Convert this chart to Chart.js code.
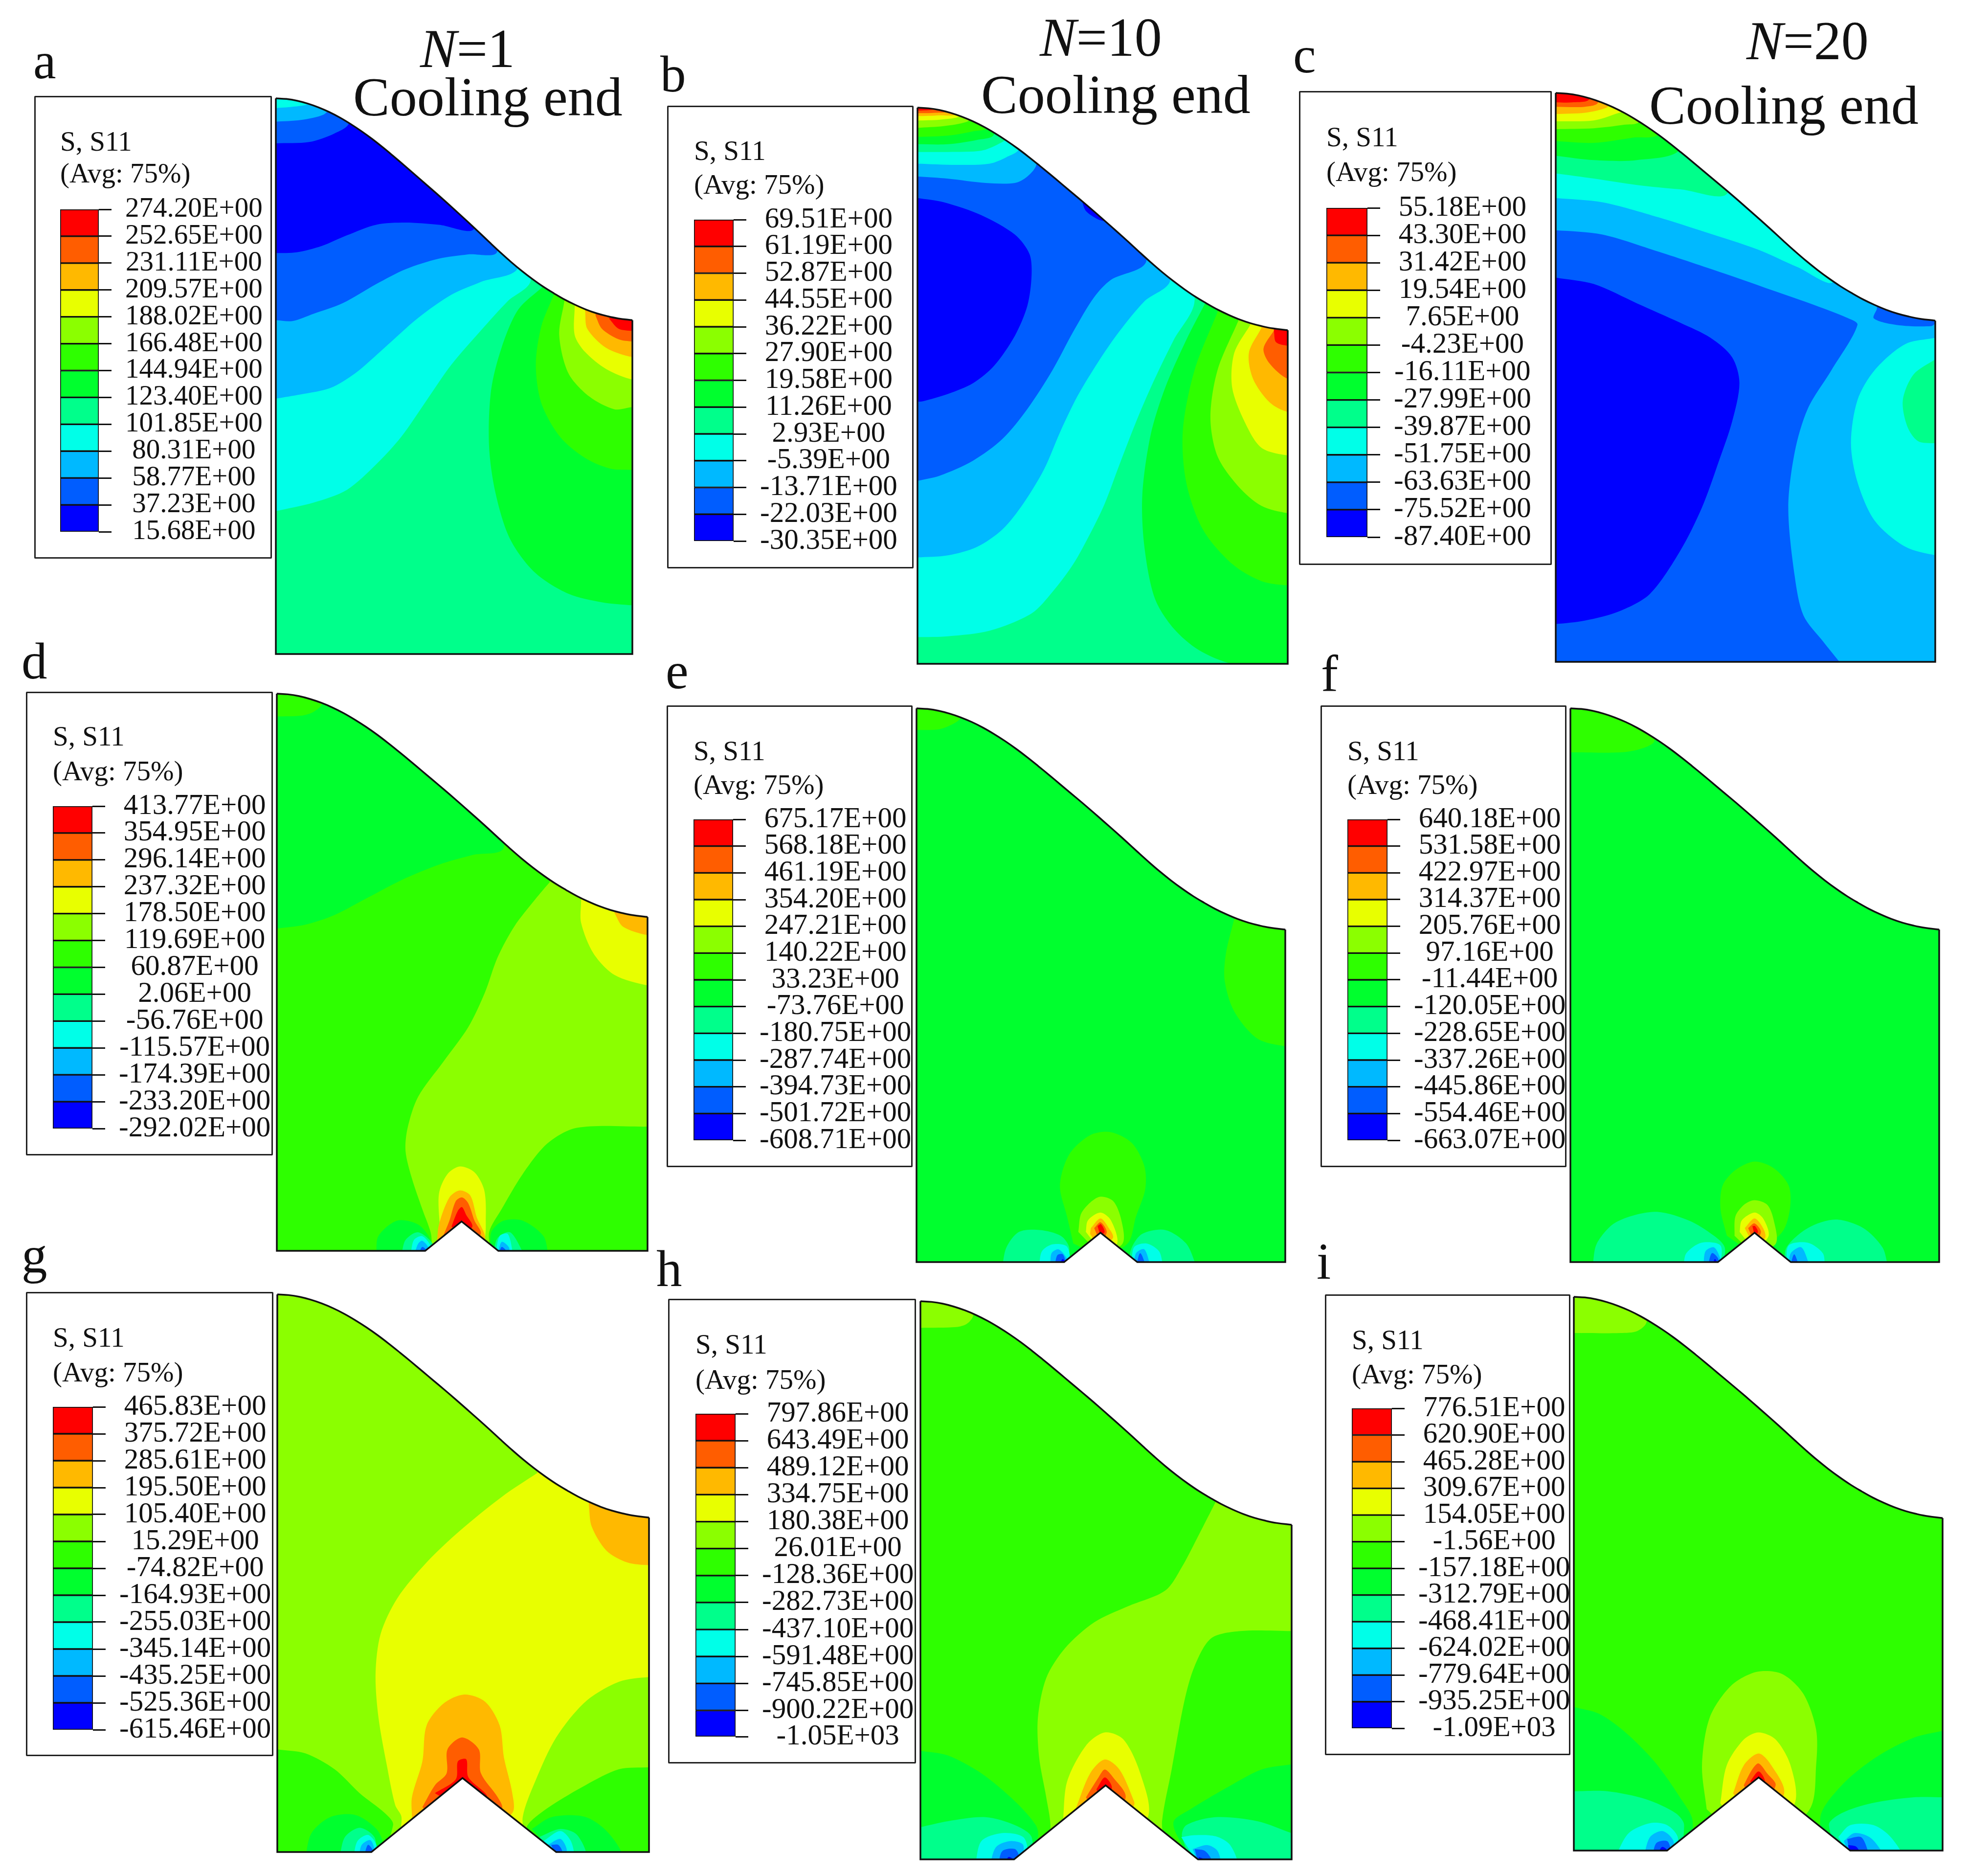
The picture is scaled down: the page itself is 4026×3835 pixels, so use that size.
<!DOCTYPE html>
<html>
<head>
<meta charset="utf-8">
<title>S11 contours</title>
<script src="https://cdn.jsdelivr.net/npm/chart.js@4/dist/chart.umd.js"></script>
<style>
html,body{margin:0;padding:0;background:#fff}
#page{position:relative;width:4026px;height:3835px;overflow:hidden;font-family:"Liberation Serif",serif;color:#111}
#page canvas{position:absolute}
.txt{position:absolute;white-space:nowrap;z-index:5}
.box{position:absolute;box-sizing:border-box;border:3px solid #222;border-radius:2px;background:#fff}
</style>
</head>
<body>
<div id="page"></div>
<script>
// Abaqus rainbow, lowest band first
const bandColors = ["#0000FF","#005DFF","#00B9FF","#00FFE8","#00FF8B","#00FF2E","#2EFF00","#8BFF00","#E8FF00","#FFB900","#FF5D00","#FF0000"];

// legend levels, top to bottom as printed
const levelsA = ["274.20E+00","252.65E+00","231.11E+00","209.57E+00","188.02E+00","166.48E+00","144.94E+00","123.40E+00","101.85E+00","80.31E+00","58.77E+00","37.23E+00","15.68E+00"];
const levelsB = ["69.51E+00","61.19E+00","52.87E+00","44.55E+00","36.22E+00","27.90E+00","19.58E+00","11.26E+00","2.93E+00","-5.39E+00","-13.71E+00","-22.03E+00","-30.35E+00"];
const levelsC = ["55.18E+00","43.30E+00","31.42E+00","19.54E+00","7.65E+00","-4.23E+00","-16.11E+00","-27.99E+00","-39.87E+00","-51.75E+00","-63.63E+00","-75.52E+00","-87.40E+00"];
const levelsD = ["413.77E+00","354.95E+00","296.14E+00","237.32E+00","178.50E+00","119.69E+00","60.87E+00","2.06E+00","-56.76E+00","-115.57E+00","-174.39E+00","-233.20E+00","-292.02E+00"];
const levelsE = ["675.17E+00","568.18E+00","461.19E+00","354.20E+00","247.21E+00","140.22E+00","33.23E+00","-73.76E+00","-180.75E+00","-287.74E+00","-394.73E+00","-501.72E+00","-608.71E+00"];
const levelsF = ["640.18E+00","531.58E+00","422.97E+00","314.37E+00","205.76E+00","97.16E+00","-11.44E+00","-120.05E+00","-228.65E+00","-337.26E+00","-445.86E+00","-554.46E+00","-663.07E+00"];
const levelsG = ["465.83E+00","375.72E+00","285.61E+00","195.50E+00","105.40E+00","15.29E+00","-74.82E+00","-164.93E+00","-255.03E+00","-345.14E+00","-435.25E+00","-525.36E+00","-615.46E+00"];
const levelsH = ["797.86E+00","643.49E+00","489.12E+00","334.75E+00","180.38E+00","26.01E+00","-128.36E+00","-282.73E+00","-437.10E+00","-591.48E+00","-745.85E+00","-900.22E+00","-1.05E+03"];
const levelsI = ["776.51E+00","620.90E+00","465.28E+00","309.67E+00","154.05E+00","-1.56E+00","-157.18E+00","-312.79E+00","-468.41E+00","-624.02E+00","-779.64E+00","-935.25E+00","-1.09E+03"];

// free surface of the part: fraction across, fraction down
const profileU = [0,.03,.06,.09,.12,.15,.18,.21,.24,.27,.30,.33,.36,.39,.42,.45,.48,.51,.54,.57,.60,.63,.66,.69,.72,.75,.78,.81,.84,.87,.90,.93,.96,1];
const profileV = [0,.003,.011,.024,.041,.062,.087,.116,.148,.183,.221,.261,.302,.344,.386,.428,.471,.515,.559,.604,.65,.695,.738,.778,.815,.849,.879,.907,.931,.952,.969,.982,.992,1];

// contour regions: [band, x,y pairs], painted in order, later ones on top
const regionsA = [
 [3,[660,1205,750,1185,830,1155,900,1095,960,1030,1020,945,1080,860,1150,780,1215,710,1270,660,1270,150,600,150,600,1205]],
 [2,[660,940,720,930,790,915,850,880,920,820,1000,750,1080,695,1150,665,1240,628,1240,150,600,150,600,940]],
 [1,[660,755,700,757,750,740,820,715,900,670,970,635,1050,610,1120,600,1190,592,1190,150,600,150,600,755]],
 [0,[660,597,710,595,770,580,830,555,900,530,970,525,1050,530,1135,537,1135,150,600,150,600,597]],
 [1,[660,338,740,335,800,315,835,290,835,150,600,150,600,338]],
 [2,[660,287,720,283,775,270,790,250,790,150,600,150,600,287]],
 [3,[660,255,700,252,740,245,750,230,750,150,600,150,600,255]],
 [5,[1300,675,1240,730,1200,820,1175,920,1170,1050,1185,1160,1220,1270,1280,1350,1360,1400,1440,1420,1513,1427,1560,1427,1560,600,1300,600]],
 [6,[1325,695,1295,770,1282,860,1295,950,1340,1030,1400,1080,1460,1105,1513,1108,1560,1108,1560,600,1325,600]],
 [7,[1350,712,1338,790,1360,880,1410,935,1470,965,1513,960,1560,960,1560,600,1350,600]],
 [8,[1375,722,1375,790,1400,830,1450,870,1513,895,1560,895,1560,600,1375,600]],
 [9,[1400,735,1405,775,1450,820,1513,842,1560,842,1560,600,1400,600]],
 [10,[1425,745,1440,775,1480,800,1513,805,1560,805,1560,600,1425,600]],
 [11,[1458,752,1480,775,1513,780,1560,780,1560,600,1458,600]]
];
const regionsB = [
 [3,[627,1480,700,1478,800,1465,900,1425,950,1375,1000,1310,1040,1240,1075,1170,1110,1080,1150,980,1190,890,1240,790,1290,700,1290,150,580,150,580,1480]],
 [2,[627,1295,700,1290,770,1270,830,1230,880,1170,930,1090,970,1000,1010,920,1060,840,1110,770,1170,700,1232,650,1232,150,580,150,580,1295]],
 [1,[627,1117,680,1105,760,1070,830,1020,890,950,950,860,1000,770,1050,690,1090,650,1175,605,1175,150,580,150,580,1117]],
 [0,[627,460,690,470,780,500,860,545,895,590,900,640,890,710,860,780,810,850,760,890,700,915,640,932,627,933,590,933,590,460]],
 [0,[1020,465,1030,490,1060,510,1075,512,1060,480]],
 [2,[627,410,700,415,790,425,860,425,890,410,912,380,912,150,580,150,580,410]],
 [3,[627,380,720,383,800,380,840,365,870,345,870,150,580,150,580,380]],
 [4,[627,353,700,353,780,350,820,335,840,320,840,150,580,150,580,353]],
 [5,[627,335,700,335,770,325,810,312,810,150,580,150,580,335]],
 [6,[627,318,700,315,760,305,795,295,795,150,580,150,580,318]],
 [7,[627,297,690,293,745,283,760,270,760,150,580,150,580,297]],
 [8,[627,280,680,278,725,272,740,260,740,150,580,150,580,280]],
 [9,[627,270,680,268,720,263,720,150,580,150,580,270]],
 [10,[627,263,670,262,705,255,705,150,580,150,580,263]],
 [11,[627,257,660,255,680,250,680,150,580,150,580,257]],
 [5,[1315,705,1270,790,1220,900,1185,1010,1165,1150,1170,1270,1195,1390,1240,1460,1300,1510,1380,1542,1560,1560,1560,600,1315,600]],
 [6,[1345,725,1290,860,1262,1000,1270,1120,1310,1230,1380,1310,1450,1350,1513,1360,1560,1360,1560,600,1345,600]],
 [7,[1395,745,1345,860,1328,970,1345,1060,1395,1130,1450,1175,1513,1192,1560,1192,1560,600,1395,600]],
 [8,[1423,755,1385,820,1380,900,1410,980,1450,1040,1513,1058,1560,1058,1560,600,1423,600]],
 [9,[1450,762,1420,820,1430,880,1470,935,1513,957,1560,957,1560,600,1450,600]],
 [10,[1480,768,1455,810,1470,845,1513,880,1560,880,1560,600,1480,600]],
 [11,[1480,770,1485,795,1513,803,1560,803,1560,600,1480,600]]
];
const regionsC = [
 [1,[1270,1540,1230,1490,1185,1430,1165,1340,1150,1180,1165,1050,1195,950,1250,860,1310,755,1285,738,1200,705,1100,670,1000,635,850,585,720,545,612,535,570,535,570,1570,1270,1570]],
 [0,[612,645,700,660,800,705,900,750,970,785,1020,830,1037,890,1020,980,990,1070,950,1180,900,1280,830,1380,760,1420,680,1442,612,1450,570,1450,570,645]],
 [3,[612,460,720,470,850,505,960,540,1080,580,1170,620,1255,652,1255,150,570,150,570,460]],
 [1,[1355,718,1348,740,1400,755,1480,758,1490,750,1490,700,1355,700]],
 [3,[1490,785,1420,800,1350,860,1310,930,1295,1030,1310,1120,1350,1210,1420,1270,1490,1290,1530,1290,1530,785]],
 [4,[1490,835,1440,870,1415,930,1425,990,1450,1025,1490,1030,1530,1030,1530,835]],
 [4,[612,403,700,415,800,430,900,440,1010,447,1010,150,570,150,570,403]],
 [5,[612,362,700,372,800,372,900,345,900,150,570,150,570,362]],
 [6,[612,328,700,332,790,320,850,310,850,150,570,150,570,328]],
 [7,[612,300,700,298,770,290,805,282,805,150,570,150,570,300]],
 [8,[612,282,700,280,750,265,770,255,770,150,570,150,570,282]],
 [9,[612,265,680,262,730,250,735,240,735,150,570,150,570,265]],
 [10,[612,248,680,248,710,238,710,150,570,150,570,248]],
 [11,[612,238,650,238,690,230,690,150,570,150,570,238]]
];
const regionsD = [
 [5,[662,655,730,645,800,620,880,575,960,530,1050,490,1130,465,1205,445,1205,20,620,20,620,655]],
 [6,[662,107,720,105,750,95,770,75,770,20,620,20,620,107]],
 [7,[1315,535,1280,580,1230,650,1190,730,1160,820,1120,910,1060,1000,1000,1090,975,1170,970,1230,985,1300,1010,1380,1030,1440,1045,1520,1170,1520,1170,1440,1200,1380,1250,1290,1310,1210,1380,1170,1549,1167,1600,1167,1600,500,1315,500]],
 [8,[1390,585,1390,640,1420,720,1470,775,1549,802,1600,802,1600,560,1390,560]],
 [9,[1470,615,1490,650,1549,672,1600,672,1600,560,1470,560]],
 [8,[1052,1430,1050,1340,1070,1290,1100,1270,1135,1285,1158,1330,1162,1400,1155,1470,1105,1500,1052,1470]],
 [9,[1045,1470,1050,1420,1075,1350,1100,1332,1125,1345,1140,1400,1160,1460,1104,1500]],
 [10,[1060,1450,1075,1410,1090,1360,1105,1350,1120,1365,1135,1410,1150,1445,1104,1480]],
 [11,[1080,1425,1095,1385,1105,1375,1115,1395,1130,1425,1104,1450]],
 [5,[900,1500,905,1450,950,1410,1000,1420,1030,1460,1030,1500]],
 [4,[960,1500,970,1460,1000,1440,1035,1470,1035,1500]],
 [3,[982,1500,990,1460,1010,1450,1030,1475,1030,1500]],
 [2,[990,1500,1000,1470,1010,1462,1025,1480,1022,1500]],
 [1,[1000,1500,1010,1478,1022,1490,1018,1500]],
 [5,[1175,1500,1175,1440,1205,1410,1250,1410,1300,1450,1312,1500]],
 [4,[1180,1500,1190,1455,1220,1440,1250,1490,1250,1500]],
 [3,[1185,1500,1195,1450,1215,1445,1228,1500]],
 [2,[1190,1500,1200,1465,1218,1480,1215,1500]],
 [1,[1192,1500,1200,1478,1212,1490,1208,1500]]
];
const regionsE = [
 [6,[625,142,680,140,715,125,730,110,730,50,600,50,600,142]],
 [6,[1385,630,1365,720,1362,790,1385,870,1440,940,1507,960,1550,960,1550,620,1385,620]],
 [6,[985,1400,968,1320,990,1240,1040,1190,1090,1182,1140,1210,1170,1270,1172,1330,1150,1400,1130,1470,1065,1500,1000,1470]],
 [7,[1012,1440,1020,1390,1060,1350,1095,1360,1115,1410,1118,1470,1065,1500]],
 [8,[1030,1440,1035,1410,1065,1390,1090,1410,1105,1470,1065,1490]],
 [9,[1042,1430,1065,1405,1085,1430,1095,1455,1065,1480,1040,1445]],
 [10,[1050,1430,1065,1415,1080,1440,1065,1470]],
 [11,[1058,1425,1066,1420,1075,1440,1065,1450]],
 [4,[830,1530,840,1480,870,1440,920,1435,970,1450,990,1480,985,1530]],
 [3,[918,1530,925,1490,950,1472,985,1478,995,1530]],
 [2,[945,1530,948,1495,965,1485,985,1510,985,1530]],
 [1,[955,1530,962,1500,975,1498,985,1530]],
 [0,[965,1530,975,1510,985,1530]],
 [4,[1130,1530,1140,1480,1165,1445,1220,1435,1270,1470,1295,1530]],
 [3,[1140,1530,1145,1480,1175,1470,1205,1490,1215,1530]],
 [2,[1145,1530,1150,1495,1170,1485,1185,1530]],
 [1,[1150,1530,1160,1495,1175,1530]]
];
const regionsF = [
 [6,[633,200,750,200,800,190,830,170,830,50,610,50,610,200]],
 [6,[1000,1450,985,1380,990,1320,1020,1280,1065,1258,1110,1275,1145,1320,1148,1380,1130,1440,1065,1500]],
 [7,[1018,1450,1020,1400,1040,1370,1065,1358,1095,1370,1110,1410,1115,1470,1065,1500]],
 [8,[1030,1440,1035,1410,1065,1390,1085,1405,1098,1450,1065,1490]],
 [9,[1042,1430,1065,1405,1085,1430,1090,1455,1065,1480]],
 [10,[1050,1430,1065,1418,1080,1440,1065,1470]],
 [11,[1060,1425,1066,1425,1073,1440,1065,1450]],
 [4,[685,1530,695,1470,740,1415,830,1388,910,1410,970,1450,995,1480,990,1530]],
 [3,[898,1530,905,1495,940,1468,985,1475,985,1530]],
 [2,[945,1530,950,1490,970,1480,985,1510,985,1530]],
 [1,[955,1530,965,1495,980,1510,975,1530]],
 [0,[965,1530,972,1510,980,1525]],
 [4,[1135,1530,1140,1480,1190,1430,1255,1408,1320,1430,1365,1480,1378,1530]],
 [3,[1140,1530,1145,1475,1190,1468,1225,1495,1230,1530]],
 [2,[1145,1530,1150,1495,1175,1480,1195,1530]],
 [1,[1148,1530,1158,1498,1170,1530]]
];
const regionsG = [
 [8,[1285,555,1200,615,1100,700,1020,780,950,870,910,960,898,1060,905,1170,925,1290,945,1390,960,1420,960,1520,1250,1520,1250,1420,1280,1330,1330,1220,1400,1130,1480,1080,1552,1068,1600,1068,1600,500,1285,500]],
 [9,[1408,635,1415,690,1450,750,1500,780,1552,787,1600,787,1600,600,1408,600]],
 [9,[985,1420,985,1370,1010,1280,1020,1190,1060,1135,1110,1112,1160,1130,1195,1190,1205,1270,1225,1360,1225,1410,1110,1520]],
 [10,[1010,1395,1040,1340,1068,1310,1070,1250,1105,1220,1145,1250,1150,1310,1190,1370,1200,1400,1106,1500]],
 [11,[1040,1360,1090,1325,1095,1280,1115,1275,1120,1320,1165,1370,1106,1400]],
 [6,[663,1250,730,1260,800,1300,860,1360,920,1410,940,1440,900,1520,640,1520,640,1250]],
 [5,[730,1520,745,1460,790,1420,850,1415,900,1450,915,1490,890,1520]],
 [4,[812,1520,825,1470,860,1447,895,1470,900,1520]],
 [3,[845,1520,855,1480,880,1465,900,1490,895,1520]],
 [2,[858,1520,865,1490,885,1478,895,1500,890,1520]],
 [1,[870,1520,880,1490,892,1505,888,1520]],
 [6,[1552,1295,1480,1300,1400,1340,1320,1390,1270,1430,1260,1450,1320,1520,1600,1520,1600,1295]],
 [5,[1272,1450,1320,1420,1400,1420,1455,1460,1485,1520,1330,1520]],
 [4,[1290,1470,1340,1450,1380,1465,1400,1520,1310,1520]],
 [3,[1300,1480,1340,1455,1365,1480,1370,1520,1320,1520]],
 [2,[1310,1490,1340,1475,1355,1500,1350,1520,1325,1520]],
 [1,[1318,1490,1335,1490,1345,1510,1330,1520]]
];
const regionsH = [
 [7,[634,190,720,188,745,180,760,160,760,100,610,100,610,190]],
 [7,[1340,628,1300,710,1260,790,1220,850,1130,890,1050,930,980,995,935,1070,915,1170,918,1270,935,1370,945,1440,940,1540,1212,1540,1212,1430,1235,1300,1265,1130,1290,1040,1330,970,1400,952,1522,952,1600,952,1600,600,1340,600]],
 [8,[975,1430,985,1330,1030,1240,1075,1207,1120,1225,1160,1310,1178,1420,1075,1530]],
 [9,[1005,1400,1040,1310,1075,1275,1110,1300,1145,1380,1145,1390,1075,1500]],
 [10,[1030,1370,1060,1320,1075,1300,1095,1320,1125,1370,1075,1450]],
 [11,[1055,1350,1075,1320,1092,1345,1075,1400]],
 [5,[634,1253,700,1265,780,1310,860,1380,910,1440,915,1470,880,1540,610,1540,610,1253]],
 [4,[634,1445,700,1430,790,1420,860,1440,900,1470,890,1530,610,1540,610,1445]],
 [3,[765,1540,780,1480,830,1460,880,1470,890,1510,870,1540]],
 [2,[800,1540,815,1495,850,1480,880,1490,875,1540]],
 [1,[820,1540,830,1505,860,1500,870,1520,860,1540]],
 [0,[835,1540,845,1520,860,1530,858,1540]],
 [5,[1522,1287,1450,1300,1360,1350,1280,1400,1240,1430,1250,1470,1300,1540,1600,1540,1600,1287]],
 [4,[1522,1460,1440,1430,1340,1420,1270,1440,1260,1470,1300,1540,1600,1540,1600,1460]],
 [3,[1258,1470,1290,1465,1340,1468,1375,1490,1390,1540,1300,1540]],
 [2,[1285,1500,1320,1490,1345,1505,1350,1540,1300,1540]],
 [1,[1290,1500,1315,1505,1330,1530,1300,1540]],
 [0,[1300,1520,1320,1530,1322,1540,1300,1540]]
];
const regionsI = [
 [7,[641,203,750,203,790,198,812,175,812,80,620,80,620,203]],
 [7,[953,1400,942,1290,960,1170,1010,1090,1070,1055,1130,1060,1180,1110,1210,1200,1210,1290,1195,1400,1075,1520]],
 [8,[985,1385,1000,1290,1040,1225,1075,1207,1115,1225,1150,1290,1160,1385,1075,1510]],
 [9,[1015,1360,1040,1290,1075,1260,1105,1290,1135,1360,1075,1450]],
 [10,[1040,1340,1060,1300,1075,1285,1095,1310,1115,1340,1075,1400]],
 [11,[1055,1330,1075,1305,1090,1330,1075,1350]],
 [5,[641,1143,700,1160,760,1205,830,1280,890,1370,920,1430,900,1510,620,1520,620,1143]],
 [4,[641,1355,720,1355,810,1375,880,1410,900,1440,880,1510,620,1520,620,1355]],
 [3,[738,1520,770,1460,820,1435,860,1440,885,1470,880,1520]],
 [2,[805,1520,820,1470,850,1455,875,1480,870,1520]],
 [1,[825,1520,835,1485,860,1480,868,1500,865,1520]],
 [0,[835,1520,848,1495,862,1505,860,1520]],
 [5,[1507,1203,1440,1220,1350,1270,1270,1340,1220,1420,1250,1520,1600,1520,1600,1203]],
 [4,[1507,1370,1440,1370,1340,1385,1270,1410,1240,1440,1280,1520,1600,1520,1600,1370]],
 [3,[1262,1470,1290,1440,1345,1440,1385,1470,1410,1520,1290,1520]],
 [2,[1275,1480,1300,1460,1335,1470,1360,1500,1365,1520,1290,1520]],
 [1,[1283,1475,1315,1470,1330,1500,1330,1520,1290,1520]],
 [0,[1285,1490,1305,1495,1315,1520,1290,1520]]
];

// where each panel sits on the page. view = coordinate frame the regions were read in
const panels = [
 {letter:"a",at:[68,160],view:[0,0,1340,1360],plot:[660,232,1513,1542],end:755,notch:null,base:4,regions:regionsA,levels:levelsA,box:[70,196,556,1142],bar:[123,428,202,1087],title:[123,308,373],size:57},
 {letter:"b",at:[1350,187],view:[1340,0,1340,1380],plot:[627,250,1513,1542],end:767,notch:null,base:4,regions:regionsB,levels:levelsB,box:[1364,216,1868,1162],bar:[1419,449,1500,1106],title:[1419,327,396],size:59},
 {letter:"c",at:[2644,148],view:[2640,0,1386,1380],plot:[612,216,1490,1538],end:745,notch:null,base:2,regions:regionsC,levels:levelsC,box:[2656,186,3173,1155],bar:[2712,425,2796,1098],title:[2712,299,370],size:59},
 {letter:"d",at:[44,1387],view:[0,1380,1340,1240],plot:[662,48,1549,1488],end:625,notch:[1017,1104,1412,1192],base:6,regions:regionsD,levels:levelsD,box:[53,1414,558,2362],bar:[108,1648,189,2307],title:[108,1524,1595],size:59},
 {letter:"e",at:[1361,1407],view:[1340,1380,1340,1240],plot:[625,86,1507,1518],end:658,notch:[978,1065,1442,1153],base:5,regions:regionsE,levels:levelsE,box:[1363,1442,1866,2386],bar:[1418,1675,1499,2331],title:[1418,1554,1623],size:59},
 {letter:"f",at:[2701,1412],view:[2660,1380,1366,1240],plot:[633,86,1498,1518],end:658,notch:[979,1065,1442,1150],base:5,regions:regionsF,levels:levelsF,box:[2700,1442,3203,2386],bar:[2755,1675,2837,2331],title:[2755,1554,1623],size:59},
 {letter:"g",at:[44,2601],view:[0,2560,1340,1275],plot:[663,106,1552,1508],end:667,notch:[888,1106,1322,1330],base:7,regions:regionsG,levels:levelsG,box:[53,2641,559,3590],bar:[108,2876,190,3536],title:[108,2753,2824],size:59},
 {letter:"h",at:[1342,2629],view:[1340,2560,1340,1275],plot:[634,123,1522,1526],end:685,notch:[858,1077,1340,1298],base:6,regions:regionsH,levels:levelsH,box:[1366,2655,1873,3605],bar:[1422,2890,1504,3550],title:[1422,2767,2839],size:59},
 {letter:"i",at:[2692,2614],view:[2660,2560,1366,1275],plot:[641,112,1507,1504],end:668,notch:[860,1075,1320,1290],base:6,regions:regionsI,levels:levelsI,box:[2709,2646,3211,3588],bar:[2764,2879,2846,3533],title:[2764,2758,2828],size:59}
];

// column headers: html, left, baseline
const headers = [
 ["<i>N</i>=1",859,137],["Cooling end",722,236],
 ["<i>N</i>=10",2126,114],["Cooling end",2006,231],
 ["<i>N</i>=20",3571,121],["Cooling end",3372,253]
];

const page = document.getElementById("page");
const pad = 6;

function addText(html, x, baseline, size){
  const d = document.createElement("div");
  d.className = "txt";
  d.innerHTML = html;
  d.style.left = x+"px";
  d.style.top = (baseline - .8375*size)+"px";
  d.style.fontSize = size+"px";
  d.style.lineHeight = size+"px";
  page.appendChild(d);
}

function addCanvas(x, y, w, h, z){
  const c = document.createElement("canvas");
  c.width = w; c.height = h;
  c.style.cssText = `left:${x}px;top:${y}px;width:${w}px;height:${h}px;z-index:${z}`;
  page.appendChild(c);
  return c;
}

function toPoints(flat){
  const pts = [];
  for(let i=0;i<flat.length;i+=2) pts.push({x:flat[i],y:flat[i+1]});
  return pts;
}

function drawPlot(p){
  const [vx,vy,vw,vh] = p.view;
  const [x0,y0,x1,y1] = p.plot;
  const sx = vw/1568, sy = vh/1568;
  const left = vx + x0*sx, top = vy + y0*sy;
  const w = (x1-x0)*sx, h = (y1-y0)*sy;
  const cv = addCanvas(Math.round(left)-pad, Math.round(top)-pad, Math.round(w)+2*pad, Math.round(h)+2*pad, 1);

  const curve = profileU.map((u,i)=>({x:x0+u*(x1-x0), y:y0+profileV[i]*(p.end-y0)}));
  const datasets = [];
  const poly = (pts,color,tension)=>datasets.push({data:pts,showLine:true,pointRadius:0,borderWidth:0,
    backgroundColor:color,fill:"shape",tension});

  poly(toPoints([x0-50,y0-50,x1+50,y0-50,x1+50,y1+50,x0-50,y1+50]), bandColors[p.base], 0);
  p.regions.forEach(r=>poly(toPoints(r[1]), bandColors[r[0]], .3));

  // white outside the part: above the free surface, and the notch
  poly(curve.concat([{x:x1+50,y:p.end},{x:x1+50,y:y0-80},{x:x0-50,y:y0-80},{x:x0-50,y:y0}]), "#fff", 0);
  if(p.notch){
    const [nl,ax,ay,nr] = p.notch;
    poly(toPoints([nl,y1,ax,ay,nr,y1,nr,y1+50,nl,y1+50]), "#fff", 0);
  }

  // outline: free surface on its own so it can stay smooth
  const edge = [{x:x1,y:p.end},{x:x1,y:y1}];
  if(p.notch){
    const [nl,ax,ay,nr] = p.notch;
    edge.push({x:nr,y:y1},{x:ax,y:ay},{x:nl,y:y1});
  }
  edge.push({x:x0,y:y1},{x:x0,y:y0});
  const stroke = {showLine:true,pointRadius:0,borderWidth:3.5,borderColor:"#111",fill:false,clip:false};
  datasets.push({...stroke,data:edge,tension:0,borderJoinStyle:"miter"});
  datasets.push({...stroke,data:curve,tension:.4,cubicInterpolationMode:"default"});

  datasets.forEach((d,i)=>{ d.order = -i; });

  new Chart(cv, {
    type:"scatter",
    data:{datasets},
    options:{
      responsive:false, animation:false, events:[],
      layout:{padding:pad},
      plugins:{legend:{display:false},tooltip:{enabled:false},title:{display:false}},
      scales:{
        x:{type:"linear",display:false,min:x0,max:x1},
        y:{type:"linear",display:false,reverse:true,min:y0,max:y1}
      }
    }
  });
}

function drawLegend(p){
  const [bx0,by0,bx1,by1] = p.box;
  const box = document.createElement("div");
  box.className = "box";
  box.style.cssText = `left:${bx0}px;top:${by0}px;width:${bx1-bx0}px;height:${by1-by0}px;z-index:2`;
  page.appendChild(box);

  addText("S, S11", p.title[0], p.title[1], 57);
  addText("(Avg: 75%)", p.title[0], p.title[2], 57);

  const [x0,y0,x1,y1] = p.bar;
  const vpad = 34, lpad = 2;
  const cw = bx1 + 8 - (x0-lpad), ch = (y1-y0) + 2*vpad;
  const cv = addCanvas(x0-lpad, y0-vpad, cw, ch, 3);

  // legend is printed top down, the scale runs low to high
  const text = p.levels.slice().reverse();
  const vals = text.map(Number);
  const datasets = bandColors.map((c,i)=>({
    data:[[vals[i],vals[i+1]]], backgroundColor:c, borderColor:"#111", borderWidth:2,
    borderSkipped:false, barPercentage:1, categoryPercentage:1, grouped:false
  }));

  new Chart(cv, {
    type:"bar",
    data:{labels:[""],datasets},
    options:{
      responsive:false, animation:false, events:[],
      layout:{padding:{left:lpad,top:vpad,bottom:vpad,right:0}},
      plugins:{legend:{display:false},tooltip:{enabled:false},title:{display:false}},
      scales:{
        x:{display:false,offset:true},
        y:{
          position:"right", min:vals[0], max:vals[12],
          afterBuildTicks:(s)=>{ s.ticks = vals.map(v=>({value:v})); },
          afterFit:(s)=>{
            // keep the colour bar exactly its measured size
            s.width = cw - lpad - (x1-x0);
            s.paddingTop = 0; s.paddingBottom = 0;
          },
          border:{display:false},
          grid:{drawOnChartArea:false,drawTicks:true,tickLength:26,color:"#111",lineWidth:3},
          ticks:{
            autoSkip:false, maxRotation:0, padding:28, crossAlign:"center", labelOffset:0,
            color:"#111", font:{family:"'Liberation Serif'",size:p.size},
            callback:(v,i)=>text[i]
          }
        }
      }
    }
  });
}

panels.forEach(p=>{
  drawPlot(p);
  drawLegend(p);
  addText(p.letter, p.at[0], p.at[1], 105);
});
headers.forEach(h=>addText(h[0],h[1],h[2],112));
</script>
</body>
</html>
